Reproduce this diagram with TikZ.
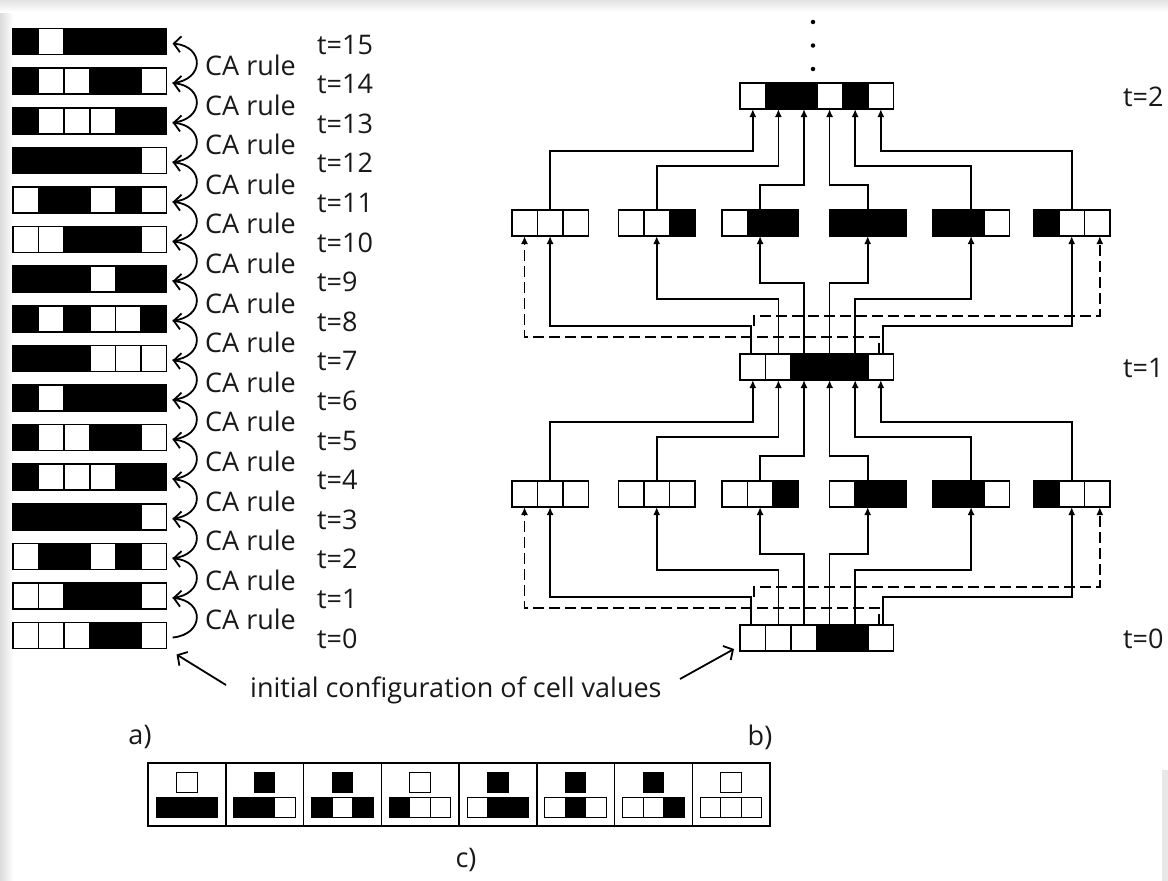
\documentclass[tikz,border=0pt]{standalone}
\usepackage{fontspec}
\setmainfont{Open Sans}
\usetikzlibrary{arrows.meta}
\newcommand\carow[4]{%
  \edef\mycarowlist{#4}%
  \foreach \v [count=\i from 0] in \mycarowlist {
    \node[cell\v, anchor=north west] (#1-\i) at ({#2+\i*25.6}, #3) {};
  }}
\newcommand\crule[5]{%
  \node[cbox] (cb#1) at ({148+(#1-0.5)*77.75}, 794.5) {};
  \node[ccell#5] (cq#1) at ({148+(#1-0.5)*77.75}, 782.5) {};
  \node[ccell#2] (ct#1a) at ({148+(#1-0.5)*77.75-20.5}, 807.5) {};
  \node[ccell#3] (ct#1b) at ({148+(#1-0.5)*77.75}, 807.5) {};
  \node[ccell#4] (ct#1c) at ({148+(#1-0.5)*77.75+20.5}, 807.5) {};
}
\begin{document}
\begin{tikzpicture}[x=1pt,y=-1pt,
  cell0/.style={draw=black, fill=white, line width=1.6pt, minimum width=25.6pt, minimum height=26pt, inner sep=0pt, outer sep=0pt},
  cell1/.style={cell0, fill=black},
  ccell0/.style={draw=black, fill=white, line width=1.2pt, minimum width=20.5pt, minimum height=20.5pt, inner sep=0pt, outer sep=0pt},
  ccell1/.style={ccell0, fill=black},
  cbox/.style={draw=black, line width=1.5pt, minimum width=77.75pt, minimum height=63pt, inner sep=0pt, outer sep=0pt},
  lbl/.style={font=\fontsize{27}{30}\selectfont, inner sep=0pt, text=black!90},
  conn/.style={line width=1.7pt, -{Latex[length=8pt,width=7pt]}},
  dconn/.style={conn, dash pattern=on 11pt off 5pt},
  openarr/.style={line width=1.8pt, -{Straight Barb[length=7pt,width=16pt]}},
  dotn/.style={circle, fill=black, inner sep=0pt, minimum size=4.5pt},
]
\useasboundingbox (0,0) rectangle (1168,881);
\fill[white] (0,0) rectangle (1168,881);
\shade[left color=gray!28, right color=white] (0,0) rectangle (13,881);
\shade[top color=gray!22, bottom color=white] (0,0) rectangle (1168,12);
\fill[gray!18] (1162,770) rectangle (1168,881);

% ---------------- panel a) ----------------
\foreach \t/\p in {15/{1,0,1,1,1,1},14/{1,0,0,1,1,0},13/{1,0,0,0,1,1},12/{1,1,1,1,1,0},
  11/{0,1,1,0,1,0},10/{0,0,1,1,1,0},9/{1,1,1,0,1,1},8/{1,0,1,0,0,1},7/{1,1,1,0,0,0},
  6/{1,0,1,1,1,1},5/{1,0,0,1,1,0},4/{1,0,0,0,1,1},3/{1,1,1,1,1,0},2/{0,1,1,0,1,0},
  1/{0,0,1,1,1,0},0/{0,0,0,1,1,0}} {
  \carow{a\t}{13}{{28.5+(15-\t)*39.6}}{\p}
  \coordinate (ar\t) at ([xshift=6pt,yshift=-2pt]a\t-5.east);
  \node[lbl, anchor=west] (tl\t) at (317, {41.5+(15-\t)*39.6+3}) {t=\t};
}
\foreach \t [evaluate=\t as \n using int(\t+1)] in {0,...,14} {
  \draw[openarr] (ar\t) .. controls +(32,-3) and +(32,3) .. (ar\n);
  \node[lbl, anchor=west] (ca\t) at (205, {41.5+(14.5-\t)*39.6+4}) {CA rule};
}

% ---------------- panel b) ----------------
\carow{R2}{740}{83}{0,1,1,0,1,0}
\carow{R1}{740}{354}{0,0,1,1,1,0}
\carow{R0}{740}{625}{0,0,0,1,1,0}
% upper triples
\carow{U1}{511.7}{210}{0,0,0}
\carow{U2}{618.3}{210}{0,0,1}
\carow{U3}{721.7}{210}{0,1,1}
\carow{U4}{829.3}{210}{1,1,1}
\carow{U5}{932.7}{210}{1,1,0}
\carow{U6}{1033.3}{210}{1,0,0}
% lower triples
\carow{L1}{511.7}{481}{0,0,0}
\carow{L2}{618.3}{481}{0,0,0}
\carow{L3}{721.7}{481}{0,0,1}
\carow{L4}{829.3}{481}{0,1,1}
\carow{L5}{932.7}{481}{1,1,0}
\carow{L6}{1033.3}{481}{1,0,0}

\node[dotn] (d1) at (813,22) {};
\node[dotn] (d2) at (813,45.5) {};
\node[dotn] (d3) at (813,69) {};

% levels: source row S, triples T, target row D
\foreach \S/\T/\D in {R0/L/R1, R1/U/R2} {
  % source row -> triples
  \draw[conn] ([xshift=-1.5pt]\S-0.north) -- ++(0,-28) -| (\T1-1.south);
  \draw[conn] (\S-1.north) -- ++(0,-55) -| (\T2-1.south);
  \draw[conn] (\S-2.north) -- ++(0,-71) -| (\T3-1.south);
  \draw[conn] (\S-3.north) -- ++(0,-71) -| (\T4-1.south);
  \draw[conn] (\S-4.north) -- ++(0,-55) -| (\T5-1.south);
  \draw[conn] ([xshift=2.5pt]\S-5.north) -- ++(0,-28) -| (\T6-1.south);
  \draw[dconn] ([xshift=1.5pt,yshift=28pt]\S-0.north) -- ++(0,-10) -| ([xshift=2.5pt]\T6-2.south);
  \draw[dconn] ([xshift=-1.5pt]\S-5.north) -- ++(0,-17) -| (\T1-0.south);
  % triples -> target row
  \draw[conn] (\T1-1.north) -- ++(0,-59) -| (\D-0.south);
  \draw[conn] (\T2-1.north) -- ++(0,-44) -| (\D-1.south);
  \draw[conn] (\T3-1.north) -- ++(0,-25) -| (\D-2.south);
  \draw[conn] (\T4-1.north) -- ++(0,-25) -| (\D-3.south);
  \draw[conn] (\T5-1.north) -- ++(0,-44) -| (\D-4.south);
  \draw[conn] (\T6-1.north) -- ++(0,-59) -| (\D-5.south);
}

\node[lbl, anchor=west] (tb2) at (1123,97) {t=2};
\node[lbl, anchor=west] (tb1) at (1123,368) {t=1};
\node[lbl, anchor=west] (tb0) at (1123,639) {t=0};

% initial configuration
\node[lbl, anchor=west] (init) at (250,690) {initial configuration of cell values};
\coordinate (initL) at (226,685);
\coordinate (initR) at (680,679);
\draw[openarr] (initL) -- ([shift={(10pt,-6pt)}]a0-5.south east);
\draw[openarr] (initR) -- ([shift={(-6pt,2pt)}]R0-0.south west);

\node[lbl] (la) at (140,737) {a)};
\node[lbl] (lb) at (760,737) {b)};

% ---------------- panel c) ----------------
\crule{1}{1}{1}{1}{0}
\crule{2}{1}{1}{0}{1}
\crule{3}{1}{0}{1}{1}
\crule{4}{1}{0}{0}{0}
\crule{5}{0}{1}{1}{1}
\crule{6}{0}{1}{0}{1}
\crule{7}{0}{0}{1}{1}
\crule{8}{0}{0}{0}{0}
\node[lbl] (lc) at (466,860) {c)};
\end{tikzpicture}
\end{document}
